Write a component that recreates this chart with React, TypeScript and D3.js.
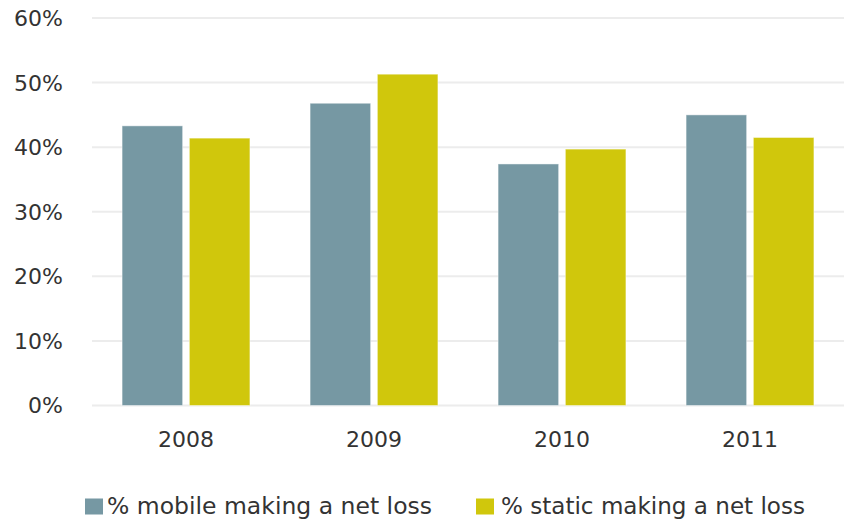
import React from "react";
import * as d3 from "d3";

const years = ["2008", "2009", "2010", "2011"];
const seriesNames = ["% mobile making a net loss", "% static making a net loss"];
const mobileValues = [0.433, 0.468, 0.374, 0.450];
const staticValues = [0.414, 0.513, 0.397, 0.415];
const yTicks = [0, 0.1, 0.2, 0.3, 0.4, 0.5, 0.6];
const colors = ["#7698A3", "#D0C70C"];

const W = 850;
const H = 519;
const FONT = "'DejaVu Sans', sans-serif";

export default function App() {
  const x0 = d3.scaleBand<string>().domain(years).range([92, 844]).padding(0);
  const bw = x0.bandwidth();
  const x1 = d3
    .scaleBand<string>()
    .domain(seriesNames)
    .range([bw * 0.16, bw * 0.84])
    .paddingInner(0.1);
  const y = d3.scaleLinear().domain([0, 0.6]).range([405.5, 18]);
  const fmt = d3.format(".0%");
  const seriesValues = [mobileValues, staticValues];

  const legend = [
    { x: 85, tx: 107, len: 325 },
    { x: 476, tx: 501, len: 304 },
  ];

  return (
    <svg
      width={W}
      height={H}
      style={{ position: "absolute", left: 0, top: 0, background: "#fff" }}
    >
      {yTicks.map((t) => (
        <g key={t}>
          <line
            x1={92}
            x2={844}
            y1={y(t)}
            y2={y(t)}
            stroke="#ececec"
            strokeWidth={2}
          />
          <text
            x={63}
            y={y(t)}
            dy="0.36em"
            textAnchor="end"
            fontFamily={FONT}
            fontSize={22}
            fill="#333"
          >
            {fmt(t)}
          </text>
        </g>
      ))}
      {years.map((yr, i) => (
        <g key={yr} transform={`translate(${x0(yr)},0)`}>
          {seriesNames.map((s, j) => (
            <rect
              key={s}
              x={x1(s)}
              y={y(seriesValues[j][i])}
              width={x1.bandwidth()}
              height={y(0) - y(seriesValues[j][i])}
              fill={colors[j]}
              stroke="#ffffff"
              strokeOpacity={0.45}
              strokeWidth={1}
            />
          ))}
          <text
            x={bw / 2}
            y={447.3}
            textAnchor="middle"
            fontFamily={FONT}
            fontSize={22}
            fill="#333"
          >
            {yr}
          </text>
        </g>
      ))}
      {seriesNames.map((s, j) => (
        <g key={s}>
          <rect x={legend[j].x} y={498.5} width={18} height={16} fill={colors[j]} />
          <text
            x={legend[j].tx}
            y={513.5}
            fontFamily={FONT}
            fontSize={23}
            fill="#333"
            textLength={legend[j].len}
            lengthAdjust="spacingAndGlyphs"
          >
            {s}
          </text>
        </g>
      ))}
    </svg>
  );
}
